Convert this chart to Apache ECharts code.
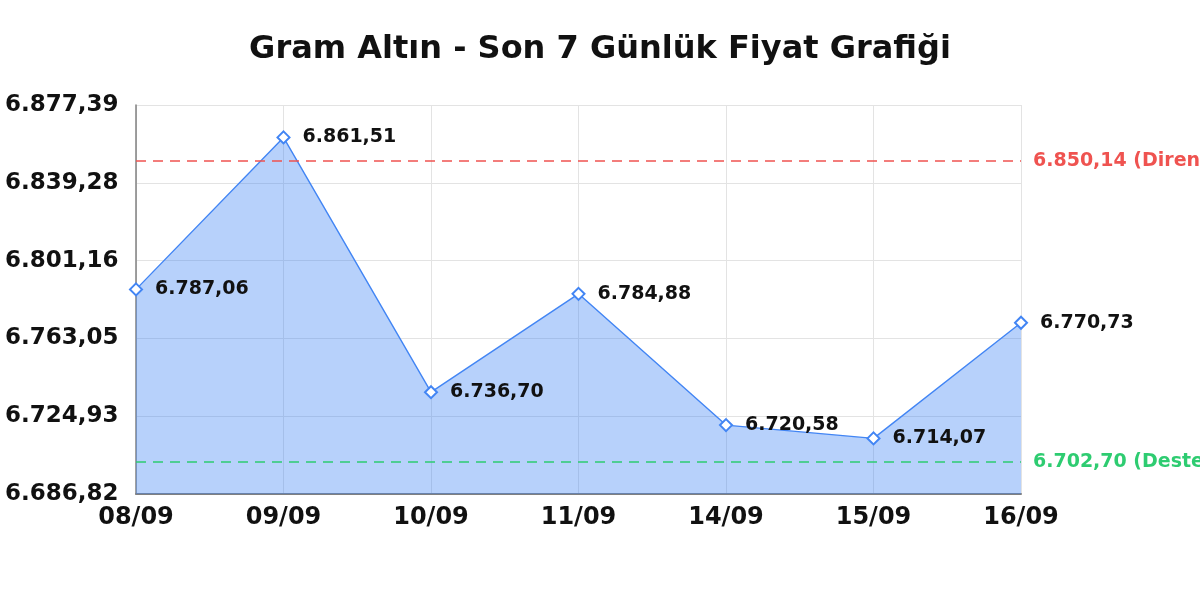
<!DOCTYPE html>
<html>
<head>
<meta charset="utf-8">
<title>Gram Altın</title>
<script src="https://cdn.jsdelivr.net/npm/echarts@6/dist/echarts.min.js"></script>
<style>
  html, body { margin: 0; padding: 0; background: #fff; }
  #chart { width: 1200px; height: 600px; }
</style>
</head>
<body>
<div id="chart"></div>
<script>
// veriler
var days = ['08/09', '09/09', '10/09', '11/09', '14/09', '15/09', '16/09'];
var prices = [6787.06, 6861.51, 6736.70, 6784.88, 6720.58, 6714.07, 6770.73];
var resistance = 6850.14;
var support = 6702.70;
var yMin = 6686.82;
var yMax = 6877.39;

// 6.877,39 gibi yazar
function trNum(v) {
    var parts = v.toFixed(2).split('.');
    parts[0] = parts[0].replace(/\B(?=(\d{3})+(?!\d))/g, '.');
    return parts[0] + ',' + parts[1];
}

var font = 'DejaVu Sans';
var chart = echarts.init(document.getElementById('chart'));

chart.setOption({
    backgroundColor: '#fff',
    animation: false,
    textStyle: { fontFamily: font },
    title: {
        text: 'Gram Altın - Son 7 Günlük Fiyat Grafiği',
        left: 'center',
        top: 29,
        textStyle: { fontFamily: font, fontWeight: 'bold', fontSize: 32, color: '#111' }
    },
    grid: { left: 136, right: 179, top: 105, bottom: 106 },
    xAxis: {
        type: 'category',
        data: days,
        boundaryGap: false,
        axisLine: { lineStyle: { color: '#808080', width: 2 } },
        axisTick: { show: false },
        axisLabel: { fontFamily: font, fontWeight: 'bold', fontSize: 24, color: '#111', margin: 12 },
        splitLine: { show: true, lineStyle: { color: '#e3e3e3' } }
    },
    yAxis: {
        type: 'value',
        min: yMin,
        max: yMax,
        interval: (yMax - yMin) / 5,
        axisLine: { show: true, lineStyle: { color: '#808080', width: 1.5 } },
        axisTick: { show: false },
        axisLabel: {
            fontFamily: font, fontWeight: 'bold', fontSize: 23, color: '#111',
            align: 'left', margin: 131,
            formatter: function (v) { return trNum(v); }
        },
        splitLine: { show: true, lineStyle: { color: '#e3e3e3' } }
    },
    series: [{
        type: 'line',
        data: prices,
        symbol: 'emptyDiamond',
        symbolSize: 12,
        lineStyle: { color: '#4285f4', width: 1.4 },
        itemStyle: { color: '#4285f4', borderWidth: 2.5 },
        areaStyle: { color: 'rgba(66,133,244,0.38)', opacity: 1 },
        label: {
            show: true,
            position: 'right',
            distance: 12,
            fontFamily: font, fontWeight: 'bold', fontSize: 19, color: '#111',
            formatter: function (p) { return trNum(p.value); }
        },
        markLine: {
            silent: true,
            symbol: 'none',
            data: [
                {
                    yAxis: resistance,
                    lineStyle: { color: '#ef5350', type: [10, 7], width: 1.5 },
                    label: { color: '#ef5350', formatter: trNum(resistance) + ' (Direnç)' }
                },
                {
                    yAxis: support,
                    lineStyle: { color: '#2ecc71', type: [10, 7], width: 1.5 },
                    label: { color: '#2ecc71', formatter: trNum(support) + ' (Destek)' }
                }
            ],
            label: {
                position: 'end',
                distance: 12,
                fontFamily: font, fontWeight: 'bold', fontSize: 19
            }
        }
    }]
});
</script>
</body>
</html>
